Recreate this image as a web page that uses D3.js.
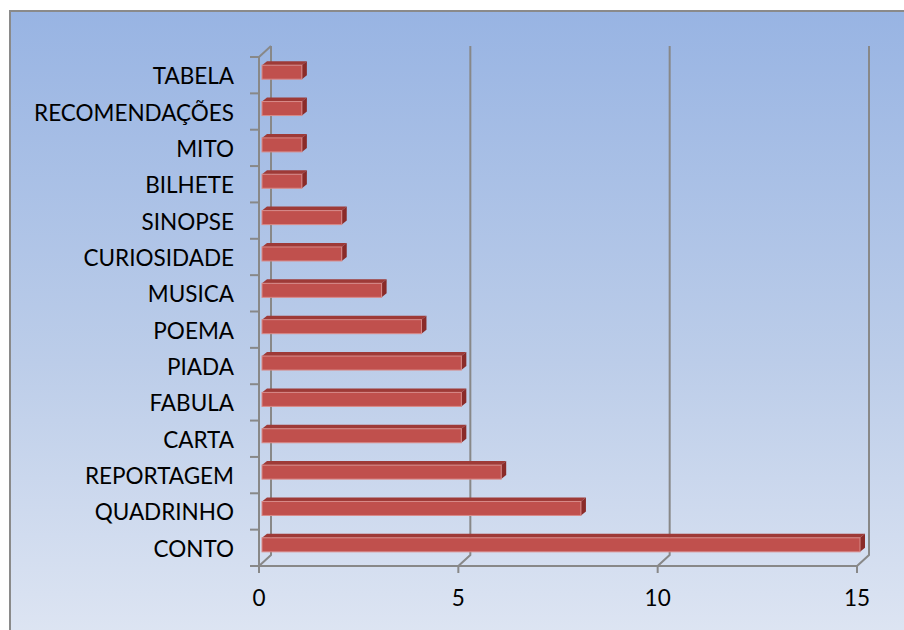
<!DOCTYPE html>
<html>
<head>
<meta charset="utf-8">
<script src="https://cdn.jsdelivr.net/npm/d3@7"></script>
<style>
  html, body { margin: 0; padding: 0; background: #ffffff; }
  svg { display: block; }
  text { font-family: Lato, "Open Sans", sans-serif; fill: #000; }
</style>
</head>
<body>
<svg id="chart" width="904" height="630"></svg>
<script>
// Text genres and how many times each appeared
const categories = ["TABELA", "RECOMENDAÇÕES", "MITO", "BILHETE", "SINOPSE", "CURIOSIDADE",
  "MUSICA", "POEMA", "PIADA", "FABULA", "CARTA", "REPORTAGEM", "QUADRINHO", "CONTO"];
const counts = [1, 1, 1, 1, 2, 2, 3, 4, 5, 5, 5, 6, 8, 15];
const xTicks = [0, 5, 10, 15];

(function () {
const W = 904, H = 630;
const svg = d3.select("#chart");

// Background panel gradient
const defs = svg.append("defs");
const grad = defs.append("linearGradient").attr("id", "bg").attr("x1", 0).attr("y1", 0).attr("x2", 0).attr("y2", 1);
grad.append("stop").attr("offset", "0%").attr("stop-color", "#98b4e3");
grad.append("stop").attr("offset", "55%").attr("stop-color", "#bccde9");
grad.append("stop").attr("offset", "100%").attr("stop-color", "#dfe6f3");

svg.append("rect").attr("x", 10).attr("y", 11).attr("width", W + 10).attr("height", H + 10)
  .attr("fill", "url(#bg)").attr("stroke", "#8a8a8a").attr("stroke-width", 2);

// Plot geometry (front plane) and 3D depth of the walls
const pLeft = 259, pRight = 857, pTop = 57, pBottom = 566;
const dx = 12, dy = -11;

const x = d3.scaleLinear().domain([0, 15]).range([pLeft, pRight]);
const y = d3.scaleBand().domain(categories).range([pTop, pBottom]).paddingInner(0).paddingOuter(0);

const gridColor = "#888888";
const g = svg.append("g");

// Back-wall gridlines with floor diagonals
xTicks.forEach(t => {
  const fx = x(t);
  g.append("path")
    .attr("d", `M${fx + dx},${pTop + dy}V${pBottom + dy}L${fx},${pBottom}`)
    .attr("fill", "none").attr("stroke", gridColor).attr("stroke-width", 2);
});

// Side wall: top diagonal plus front edge of the category axis
g.append("path")
  .attr("d", `M${pLeft},${pTop}L${pLeft + dx},${pTop + dy}`)
  .attr("fill", "none").attr("stroke", gridColor).attr("stroke-width", 2);
g.append("line").attr("x1", pLeft).attr("x2", pLeft).attr("y1", pTop).attr("y2", pBottom)
  .attr("stroke", gridColor).attr("stroke-width", 2);
// Floor front edge
g.append("line").attr("x1", pLeft - 1).attr("x2", pRight).attr("y1", pBottom).attr("y2", pBottom)
  .attr("stroke", gridColor).attr("stroke-width", 2);

// Category ticks at band boundaries
const bounds = categories.map(c => y(c)).concat([pBottom]);
g.selectAll(".ytick").data(bounds).join("line")
  .attr("x1", pLeft - 9).attr("x2", pLeft).attr("y1", d => d).attr("y2", d => d)
  .attr("stroke", gridColor).attr("stroke-width", 2);

// Value ticks under the floor
g.selectAll(".xtick").data(xTicks).join("line")
  .attr("x1", d => x(d)).attr("x2", d => x(d)).attr("y1", pBottom).attr("y2", pBottom + 7)
  .attr("stroke", gridColor).attr("stroke-width", 2);

// 3D bars
const off = 3;        // bar sits slightly behind the front plane
const bd = 5;         // bar depth
const bh = 14;        // bar front face height
const bars = svg.append("g");
categories.forEach((c, i) => {
  const v = counts[i];
  const cy = y(c) + y.bandwidth() / 2 - off;
  const x0 = x(0) + off, x1 = x(v) + off;
  const y0 = cy - bh / 2, y1 = cy + bh / 2;
  // top face
  bars.append("path")
    .attr("d", `M${x0},${y0}L${x0 + bd},${y0 - bd + 1}L${x1 + bd},${y0 - bd + 1}L${x1},${y0}Z`)
    .attr("fill", "#9e3a37");
  // right side face
  bars.append("path")
    .attr("d", `M${x1},${y0}L${x1 + bd},${y0 - bd + 1}L${x1 + bd},${y1 - bd + 1}L${x1},${y1}Z`)
    .attr("fill", "#8a2b29");
  // front face
  bars.append("rect")
    .attr("x", x0).attr("y", y0).attr("width", x1 - x0).attr("height", bh)
    .attr("fill", "#c0504d").attr("stroke", "#d88a88").attr("stroke-width", 1);
});

// Category labels
svg.append("g").selectAll("text").data(categories).join("text")
  .attr("x", 234).attr("y", d => y(d) + y.bandwidth() / 2 + 0.5)
  .attr("text-anchor", "end").attr("dominant-baseline", "central")
  .attr("font-size", 22.5)
  .text(d => d);

// Value axis labels
svg.append("g").selectAll("text").data(xTicks).join("text")
  .attr("x", d => x(d)).attr("y", 606)
  .attr("text-anchor", "middle")
  .attr("font-size", 22.5)
  .text(d => d);
})();
</script>
</body>
</html>
